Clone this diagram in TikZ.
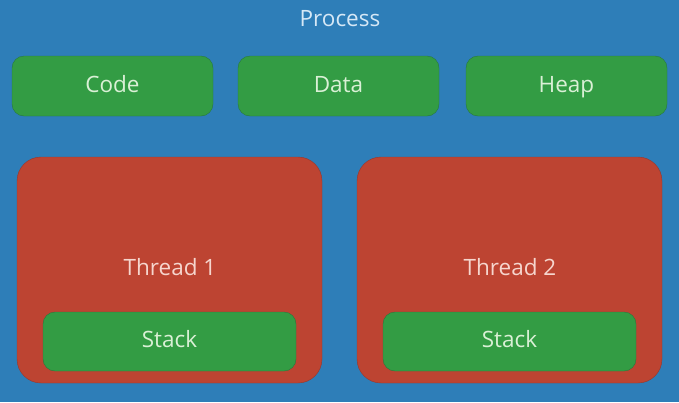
\documentclass[tikz,border=0pt]{standalone}
\usepackage{fontspec}
\setmainfont{Open Sans}

\definecolor{bgblue}{RGB}{46,126,184}
\definecolor{partgreen}{RGB}{51,156,68}
\definecolor{partedge}{RGB}{40,120,60}
\definecolor{greentext}{RGB}{218,240,214}
\definecolor{threadred}{RGB}{189,68,50}
\definecolor{threadedge}{RGB}{150,55,45}
\definecolor{redtext}{RGB}{246,214,206}
\definecolor{titletext}{RGB}{214,232,246}

\begin{document}
\begin{tikzpicture}[x=1pt, y=-1pt, outer sep=0pt]

\tikzstyle{caption}=[font=\fontsize{22.5}{26}\selectfont, text height=16pt, text depth=5pt]
\tikzstyle{part}=[caption, draw=partedge, fill=partgreen, rounded corners=12pt, text=greentext, minimum width=201pt, minimum height=60pt, anchor=north west, text depth=3pt]
\tikzstyle{stackbox}=[part, minimum width=253pt, minimum height=59pt, text depth=5pt]
\tikzstyle{thread}=[draw=threadedge, fill=threadred, rounded corners=24pt, minimum width=305pt, minimum height=226pt, anchor=north west]

\fill[bgblue] (0,0) rectangle (679,402);
\useasboundingbox (0,0) rectangle (679,402);

\node[caption, text=titletext] (process) at (340,21) {Process};

\node[part] (code) at (12,56) {Code}; \node[part] (data) at (238,56) {Data}; \node[part] (heap) at (466,56) {Heap};

\node[thread] (thread1) at (17,157) {}; \node[thread] (thread2) at (357,157) {};
\node[caption, text=redtext] (name1) at (170,270) {Thread 1}; \node[caption, text=redtext] (name2) at (510,270) {Thread 2};
\node[stackbox] (stack1) at (43,312) {Stack}; \node[stackbox] (stack2) at (383,312) {Stack};

\end{tikzpicture}
\end{document}
